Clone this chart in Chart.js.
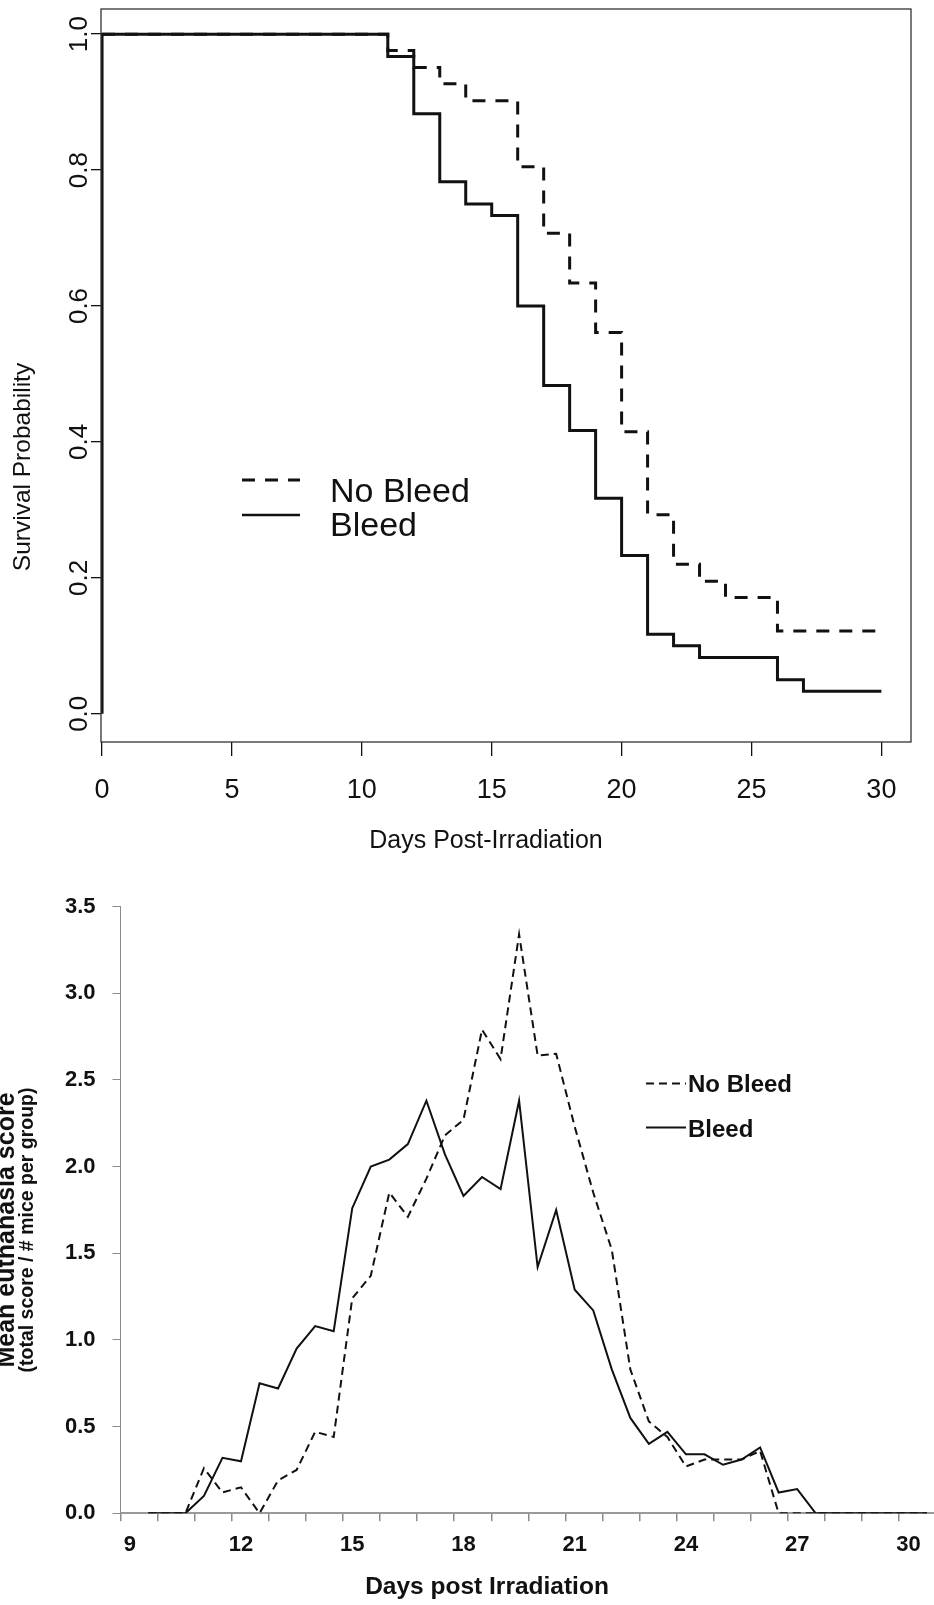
<!DOCTYPE html>
<html>
<head>
<meta charset="utf-8">
<title>Survival and euthanasia score</title>
<script src="https://cdn.jsdelivr.net/npm/chart.js@4.4.1/dist/chart.umd.min.js"></script>
<style>
  html, body { margin: 0; padding: 0; background: #fff; }
  #page { position: relative; width: 934px; height: 1605px; overflow: hidden; }
  canvas { position: absolute; left: 0; }
  #survival { top: 0; }
  #score { top: 870px; }
</style>
</head>
<body>
<div id="page">
  <canvas id="survival" width="934" height="870"></canvas>
  <canvas id="score" width="934" height="735"></canvas>
</div>
<script>
// --- Kaplan-Meier curves (top panel) ---
const kmNoBleedDays = [0, 11, 12, 13, 14, 16, 17, 18, 19, 20, 21, 22, 23, 24, 26, 30];
const kmNoBleedSurv = [1, 0.976, 0.951, 0.927, 0.902, 0.805, 0.707, 0.634, 0.561, 0.415, 0.293, 0.220, 0.195, 0.171, 0.122, 0.122];
const kmBleedDays = [0, 0, 11, 12, 13, 14, 15, 16, 17, 18, 19, 20, 21, 22, 23, 26, 27, 30];
const kmBleedSurv = [0, 1, 0.967, 0.883, 0.783, 0.750, 0.733, 0.600, 0.483, 0.417, 0.317, 0.233, 0.117, 0.100, 0.083, 0.050, 0.033, 0.033];
const kmXTicks = [0, 5, 10, 15, 20, 25, 30];
const kmYTicks = [0, 0.2, 0.4, 0.6, 0.8, 1.0];

// --- Mean euthanasia score (bottom panel) ---
const scoreDays = [9.5, 10, 10.5, 11, 11.5, 12, 12.5, 13, 13.5, 14, 14.5, 15, 15.5, 16, 16.5, 17, 17.5, 18, 18.5, 19, 19.5,
                   20, 20.5, 21, 21.5, 22, 22.5, 23, 23.5, 24, 24.5, 25, 25.5, 26, 26.5, 27, 27.5, 28, 28.5, 29, 29.5, 30, 30.5];
const scoreBleed = [0, 0, 0, 0.10, 0.32, 0.30, 0.75, 0.72, 0.95, 1.08, 1.05, 1.76, 2.00, 2.04, 2.13, 2.38, 2.07, 1.83, 1.94, 1.87, 2.38,
                    1.42, 1.75, 1.29, 1.17, 0.83, 0.55, 0.40, 0.47, 0.34, 0.34, 0.28, 0.31, 0.38, 0.12, 0.14, 0, 0, 0, 0, 0, 0, 0];
const scoreNoBleed = [0, 0, 0, 0.26, 0.12, 0.15, 0, 0.19, 0.25, 0.47, 0.44, 1.24, 1.37, 1.85, 1.71, 1.93, 2.18, 2.27, 2.79, 2.62, 3.34,
                      2.64, 2.65, 2.23, 1.85, 1.52, 0.83, 0.53, 0.44, 0.27, 0.31, 0.31, 0.31, 0.36, 0, 0, 0, 0, 0, 0, 0, 0, 0];
const scoreXLabels = [9, 12, 15, 18, 21, 24, 27, 30];
const scoreYTicks = [0, 0.5, 1.0, 1.5, 2.0, 2.5, 3.0, 3.5];

const FONT = "'Liberation Sans', Arial, Helvetica, sans-serif";
const INK = '#111';
const AXIS_GREY = '#8c8c8c';

const toPoints = (xs, ys) => xs.map((x, i) => ({ x: x, y: ys[i] }));

// draws rotated text, reading bottom to top
function rotatedText(ctx, text, x, y, font) {
    ctx.save();
    ctx.translate(x, y);
    ctx.rotate(-Math.PI / 2);
    ctx.font = font;
    ctx.textAlign = 'center';
    ctx.textBaseline = 'alphabetic';
    ctx.fillText(text, 0, 0);
    ctx.restore();
}

// box, rotated y labels, titles and legend of the R style plot
const kmDecor = {
    id: 'kmDecor',
    afterDraw(chart) {
        const ctx = chart.ctx;
        const a = chart.chartArea;
        ctx.save();
        ctx.strokeStyle = '#333';
        ctx.lineWidth = 1.3;
        ctx.strokeRect(a.left, a.top, a.right - a.left, a.bottom - a.top);

        ctx.fillStyle = INK;
        const yScale = chart.scales.y;
        kmYTicks.forEach(v => {
            rotatedText(ctx, v.toFixed(1), 87, yScale.getPixelForValue(v), '26px ' + FONT);
        });

        ctx.font = '25px ' + FONT;
        ctx.textAlign = 'center';
        ctx.textBaseline = 'alphabetic';
        ctx.fillText('Days Post-Irradiation', 486, 848);
        rotatedText(ctx, 'Survival Probability', 30, 467, '24.5px ' + FONT);

        // legend
        ctx.strokeStyle = INK;
        ctx.lineWidth = 3;
        ctx.setLineDash([13, 10]);
        ctx.beginPath(); ctx.moveTo(242, 480); ctx.lineTo(300, 480); ctx.stroke();
        ctx.setLineDash([]);
        ctx.lineWidth = 2.5;
        ctx.beginPath(); ctx.moveTo(242, 515); ctx.lineTo(300, 515); ctx.stroke();
        ctx.font = '34px ' + FONT;
        ctx.textAlign = 'left';
        ctx.fillText('No Bleed', 330, 502);
        ctx.fillText('Bleed', 330, 536);
        ctx.restore();
    }
};

// axis titles and legend of the spreadsheet style plot
const scoreDecor = {
    id: 'scoreDecor',
    afterDraw(chart) {
        const ctx = chart.ctx;
        ctx.save();
        ctx.fillStyle = INK;
        // first line is partly cut by the left edge, as in the figure
        rotatedText(ctx, 'Mean euthanasia score', 14, 360, 'bold 25px ' + FONT);
        rotatedText(ctx, '(total score / # mice per group)', 33, 360, 'bold 19.5px ' + FONT);

        ctx.font = 'bold 24.5px ' + FONT;
        ctx.textAlign = 'center';
        ctx.textBaseline = 'alphabetic';
        ctx.fillText('Days post Irradiation', 487, 724);

        ctx.strokeStyle = INK;
        ctx.lineWidth = 2;
        ctx.setLineDash([8, 5]);
        ctx.beginPath(); ctx.moveTo(646, 213.5); ctx.lineTo(686, 213.5); ctx.stroke();
        ctx.setLineDash([]);
        ctx.beginPath(); ctx.moveTo(646, 257.5); ctx.lineTo(686, 257.5); ctx.stroke();
        ctx.font = 'bold 24px ' + FONT;
        ctx.textAlign = 'left';
        ctx.fillText('No Bleed', 688, 221.5);
        ctx.fillText('Bleed', 688, 266.5);
        ctx.restore();
    }
};

document.addEventListener('DOMContentLoaded', () => {

    new Chart(document.getElementById('survival'), {
        type: 'line',
        data: {
            datasets: [
                {
                    label: 'No Bleed',
                    data: toPoints(kmNoBleedDays, kmNoBleedSurv),
                    stepped: 'before',
                    borderColor: INK,
                    borderWidth: 3,
                    borderDash: [13, 10],
                    pointRadius: 0,
                    fill: false
                },
                {
                    label: 'Bleed',
                    data: toPoints(kmBleedDays, kmBleedSurv),
                    stepped: 'before',
                    borderColor: INK,
                    borderWidth: 3,
                    pointRadius: 0,
                    fill: false
                }
            ]
        },
        options: {
            responsive: false,
            animation: false,
            events: [],
            layout: { padding: { top: 9, right: 23, bottom: 0, left: 0 } },
            plugins: { legend: { display: false }, tooltip: { enabled: false } },
            scales: {
                x: {
                    type: 'linear',
                    min: -0.04,
                    max: 31.14,
                    afterBuildTicks: s => { s.ticks = kmXTicks.map(v => ({ value: v })); },
                    afterFit: s => { s.height = 128; },
                    grid: { drawOnChartArea: false, tickLength: 14, color: INK, lineWidth: 1.3 },
                    border: { display: false },
                    ticks: {
                        autoSkip: false, maxRotation: 0, padding: 18, color: INK,
                        font: { family: FONT, size: 27 }
                    }
                },
                y: {
                    type: 'linear',
                    min: -0.0415,
                    max: 1.037,
                    afterBuildTicks: s => { s.ticks = kmYTicks.map(v => ({ value: v })); },
                    afterFit: s => { s.width = 101; },
                    grid: { drawOnChartArea: false, tickLength: 10, color: INK, lineWidth: 1.3 },
                    border: { display: false },
                    ticks: { display: false }
                }
            }
        },
        plugins: [kmDecor]
    });

    new Chart(document.getElementById('score'), {
        type: 'line',
        data: {
            datasets: [
                {
                    label: 'No Bleed',
                    data: toPoints(scoreDays, scoreNoBleed),
                    borderColor: INK,
                    borderWidth: 2,
                    borderDash: [8, 5],
                    pointRadius: 0,
                    tension: 0,
                    fill: false
                },
                {
                    label: 'Bleed',
                    data: toPoints(scoreDays, scoreBleed),
                    borderColor: INK,
                    borderWidth: 2,
                    pointRadius: 0,
                    tension: 0,
                    fill: false
                }
            ]
        },
        options: {
            responsive: false,
            animation: false,
            events: [],
            layout: { padding: { top: 36.5, right: 0, bottom: 0, left: 0 } },
            plugins: { legend: { display: false }, tooltip: { enabled: false } },
            scales: {
                x: {
                    type: 'linear',
                    min: 8.75,
                    max: 30.69,
                    // a tick mark every day, between the half-day categories
                    afterBuildTicks: s => {
                        const t = [];
                        for (let d = 8.75; d < 30.69; d += 1) t.push({ value: d });
                        s.ticks = t;
                    },
                    afterFit: s => { s.height = 91.7; },
                    grid: { drawOnChartArea: false, tickLength: 8, color: AXIS_GREY, lineWidth: 1.5 },
                    border: { color: '#9a9a9a', width: 2 },
                    ticks: {
                        autoSkip: false, maxRotation: 0, padding: 10, labelOffset: 9.3, color: INK,
                        font: { family: FONT, size: 22, weight: 'bold' },
                        callback: v => {
                            const d = Math.round((v + 0.25) * 100) / 100;
                            return scoreXLabels.includes(d) ? String(d) : '';
                        }
                    }
                },
                y: {
                    type: 'linear',
                    min: 0,
                    max: 3.5,
                    afterBuildTicks: s => { s.ticks = scoreYTicks.map(v => ({ value: v })); },
                    afterFit: s => { s.width = 120.5; },
                    grid: { drawOnChartArea: false, tickLength: 8, color: AXIS_GREY, lineWidth: 1 },
                    border: { color: AXIS_GREY, width: 1 },
                    ticks: {
                        padding: 17, color: INK,
                        font: { family: FONT, size: 22, weight: 'bold' },
                        callback: v => v.toFixed(1)
                    }
                }
            }
        },
        plugins: [scoreDecor]
    });

});
</script>
</body>
</html>
